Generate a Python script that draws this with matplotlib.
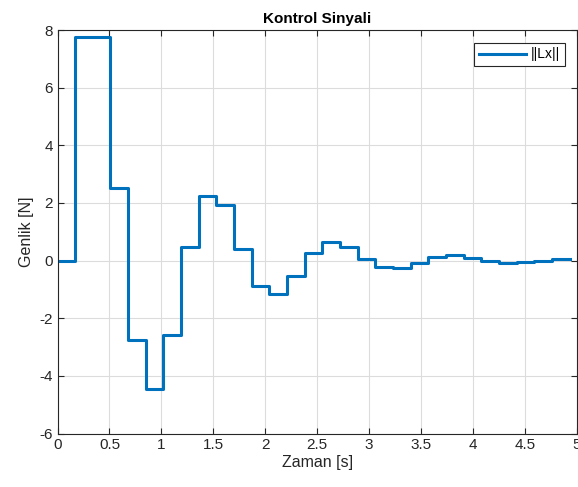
import numpy as np
import matplotlib.pyplot as plt

plt.rcParams['font.family'] = ['Liberation Sans', 'DejaVu Sans']
plt.rcParams['axes.unicode_minus'] = False

# sample period and held control values
Ts = 0.17
u = [0.0, 7.76, 7.76, 2.51, -2.76, -4.47, -2.58, 0.46, 2.23, 1.94,
     0.40, -0.89, -1.15, -0.54, 0.25, 0.64, 0.48, 0.06, -0.22, -0.27,
     -0.08, 0.11, 0.18, 0.09, 0.0, -0.08, -0.04, -0.01, 0.05, 0.05]
t = np.arange(len(u)) * Ts

xticks = [0, 0.5, 1, 1.5, 2, 2.5, 3, 3.5, 4, 4.5, 5]
xticklabels = ['0', '0.5', '1', '1.5', '2', '2.5', '3', '3.5', '4', '4.5', '5']
yticks = [-6, -4, -2, 0, 2, 4, 6, 8]

fig = plt.figure(figsize=(5.78, 4.87), dpi=100)
ax = fig.add_axes([57.5/578, (487-433.5)/487, 519.5/578, 403.5/487])

ax.step(t, u, where='post', color='#0072BD', lw=2.2, label='||Lx||')

ax.set_xlim(0, 5)
ax.set_ylim(-6, 8)
ax.set_xticks(xticks)
ax.set_xticklabels(xticklabels)
ax.set_yticks(yticks)
ax.grid(True, color='#dcdcdc', lw=0.8)
ax.set_axisbelow(True)
ax.tick_params(direction='in', length=4, width=0.8, colors='#262626',
               labelsize=11, top=True, right=True)
for s in ax.spines.values():
    s.set_color('#262626')
    s.set_linewidth(0.8)

ax.set_title('Kontrol Sinyali', fontsize=11, fontweight='bold', color='#000000', pad=5)
ax.set_xlabel('Zaman [s]', fontsize=11.5, color='#262626', labelpad=2)
ax.set_ylabel('Genlik [N]', fontsize=11.5, color='#262626', labelpad=4)

leg = ax.legend(loc='upper right', fontsize=10, fancybox=False, framealpha=1,
                edgecolor='#262626', handlelength=3.4, borderaxespad=0.9,
                handletextpad=0.3, borderpad=0.35)
leg.get_frame().set_linewidth(0.8)

fig.savefig('out.png', dpi=100)
